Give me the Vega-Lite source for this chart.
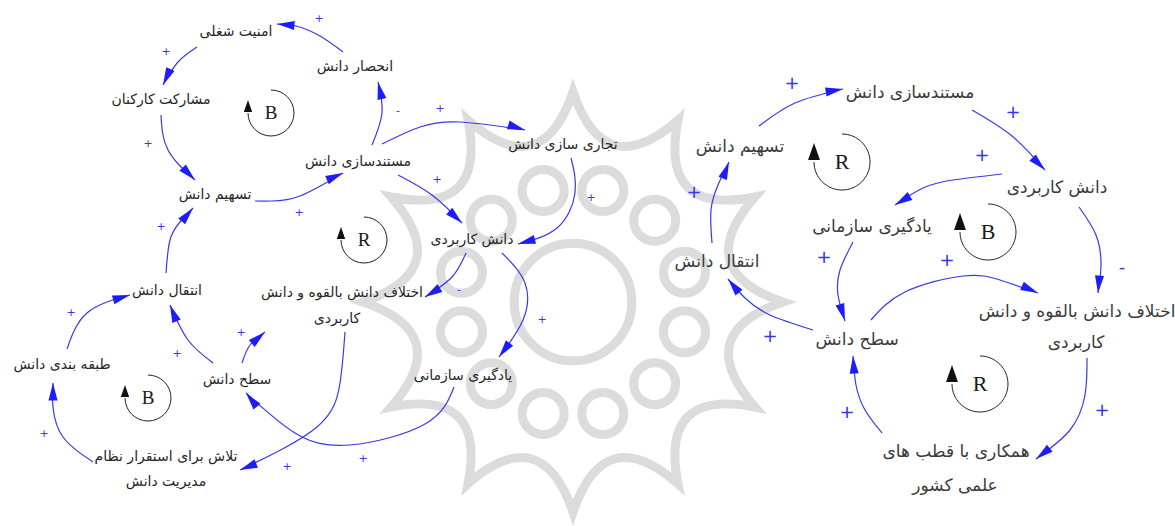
{
  "$schema": "https://vega.github.io/schema/vega-lite/v6.json",
  "width": 1175,
  "height": 526,
  "autosize": "none",
  "padding": 0,
  "background": "white",
  "config": {"view": {"stroke": null}},
  "resolve": {"scale": {"size": "independent"}},
  "datasets": {
    "wm": [{"x": 573, "y": 302}],
    "edges": [
      {"e": "L1", "i": 0, "x": 343, "y": 52}, {"e": "L1", "i": 1, "x": 320, "y": 36}, {"e": "L1", "i": 2, "x": 296, "y": 26}, {"e": "L1", "i": 3, "x": 277, "y": 24},
      {"e": "L2", "i": 0, "x": 197, "y": 47}, {"e": "L2", "i": 1, "x": 178, "y": 62}, {"e": "L2", "i": 2, "x": 163, "y": 85},
      {"e": "L3", "i": 0, "x": 161, "y": 115}, {"e": "L3", "i": 1, "x": 168, "y": 150}, {"e": "L3", "i": 2, "x": 195, "y": 180},
      {"e": "L4", "i": 0, "x": 255, "y": 201}, {"e": "L4", "i": 1, "x": 272, "y": 201}, {"e": "L4", "i": 2, "x": 300, "y": 196}, {"e": "L4", "i": 3, "x": 343, "y": 173},
      {"e": "L5", "i": 0, "x": 372, "y": 145}, {"e": "L5", "i": 1, "x": 382, "y": 113}, {"e": "L5", "i": 2, "x": 378, "y": 82},
      {"e": "L6", "i": 0, "x": 382, "y": 144}, {"e": "L6", "i": 1, "x": 420, "y": 127}, {"e": "L6", "i": 2, "x": 460, "y": 122}, {"e": "L6", "i": 3, "x": 525, "y": 130},
      {"e": "L7", "i": 0, "x": 398, "y": 175}, {"e": "L7", "i": 1, "x": 432, "y": 195}, {"e": "L7", "i": 2, "x": 462, "y": 223},
      {"e": "L8", "i": 0, "x": 571, "y": 158}, {"e": "L8", "i": 1, "x": 575, "y": 193}, {"e": "L8", "i": 2, "x": 557, "y": 228}, {"e": "L8", "i": 3, "x": 518, "y": 244},
      {"e": "L9", "i": 0, "x": 466, "y": 253}, {"e": "L9", "i": 1, "x": 452, "y": 277}, {"e": "L9", "i": 2, "x": 425, "y": 297},
      {"e": "L10", "i": 0, "x": 502, "y": 253}, {"e": "L10", "i": 1, "x": 525, "y": 283}, {"e": "L10", "i": 2, "x": 523, "y": 320}, {"e": "L10", "i": 3, "x": 499, "y": 357},
      {"e": "L11", "i": 0, "x": 454, "y": 387}, {"e": "L11", "i": 1, "x": 425, "y": 424}, {"e": "L11", "i": 2, "x": 350, "y": 445}, {"e": "L11", "i": 3, "x": 295, "y": 433}, {"e": "L11", "i": 4, "x": 246, "y": 393},
      {"e": "L12", "i": 0, "x": 345, "y": 332}, {"e": "L12", "i": 1, "x": 340, "y": 383}, {"e": "L12", "i": 2, "x": 317, "y": 427}, {"e": "L12", "i": 3, "x": 240, "y": 470},
      {"e": "L13", "i": 0, "x": 242, "y": 363}, {"e": "L13", "i": 1, "x": 250, "y": 345}, {"e": "L13", "i": 2, "x": 265, "y": 332},
      {"e": "L14", "i": 0, "x": 213, "y": 363}, {"e": "L14", "i": 1, "x": 188, "y": 340}, {"e": "L14", "i": 2, "x": 170, "y": 305},
      {"e": "L15", "i": 0, "x": 93, "y": 462}, {"e": "L15", "i": 1, "x": 63, "y": 437}, {"e": "L15", "i": 2, "x": 53, "y": 407}, {"e": "L15", "i": 3, "x": 53, "y": 383},
      {"e": "L16", "i": 0, "x": 67, "y": 349}, {"e": "L16", "i": 1, "x": 87, "y": 313}, {"e": "L16", "i": 2, "x": 130, "y": 295},
      {"e": "L17", "i": 0, "x": 166, "y": 273}, {"e": "L17", "i": 1, "x": 170, "y": 240}, {"e": "L17", "i": 2, "x": 180, "y": 222}, {"e": "L17", "i": 3, "x": 193, "y": 208},
      {"e": "R1", "i": 0, "x": 759, "y": 126}, {"e": "R1", "i": 1, "x": 795, "y": 103}, {"e": "R1", "i": 2, "x": 843, "y": 89},
      {"e": "R2", "i": 0, "x": 972, "y": 110}, {"e": "R2", "i": 1, "x": 1012, "y": 136}, {"e": "R2", "i": 2, "x": 1045, "y": 170},
      {"e": "R3", "i": 0, "x": 1002, "y": 174}, {"e": "R3", "i": 1, "x": 953, "y": 180}, {"e": "R3", "i": 2, "x": 923, "y": 188}, {"e": "R3", "i": 3, "x": 895, "y": 205},
      {"e": "R4", "i": 0, "x": 1079, "y": 207}, {"e": "R4", "i": 1, "x": 1096, "y": 235}, {"e": "R4", "i": 2, "x": 1101, "y": 265}, {"e": "R4", "i": 3, "x": 1098, "y": 293},
      {"e": "R5", "i": 0, "x": 853, "y": 242}, {"e": "R5", "i": 1, "x": 840, "y": 270}, {"e": "R5", "i": 2, "x": 838, "y": 295}, {"e": "R5", "i": 3, "x": 845, "y": 321},
      {"e": "R6", "i": 0, "x": 871, "y": 320}, {"e": "R6", "i": 1, "x": 905, "y": 292}, {"e": "R6", "i": 2, "x": 963, "y": 276}, {"e": "R6", "i": 3, "x": 1000, "y": 280}, {"e": "R6", "i": 4, "x": 1038, "y": 293},
      {"e": "R7", "i": 0, "x": 813, "y": 330}, {"e": "R7", "i": 1, "x": 770, "y": 315}, {"e": "R7", "i": 2, "x": 745, "y": 298}, {"e": "R7", "i": 3, "x": 728, "y": 279},
      {"e": "R8", "i": 0, "x": 712, "y": 243}, {"e": "R8", "i": 1, "x": 711, "y": 210}, {"e": "R8", "i": 2, "x": 718, "y": 185}, {"e": "R8", "i": 3, "x": 729, "y": 162},
      {"e": "R9", "i": 0, "x": 1087, "y": 358}, {"e": "R9", "i": 1, "x": 1085, "y": 395}, {"e": "R9", "i": 2, "x": 1070, "y": 430}, {"e": "R9", "i": 3, "x": 1036, "y": 459},
      {"e": "R10", "i": 0, "x": 882, "y": 433}, {"e": "R10", "i": 1, "x": 865, "y": 410}, {"e": "R10", "i": 2, "x": 856, "y": 385}, {"e": "R10", "i": 3, "x": 853, "y": 356}
    ],
    "heads": [
      {"e": "L1", "x": 277, "y": 24, "a": 275}, {"e": "L2", "x": 163, "y": 85, "a": 205}, {"e": "L3", "x": 195, "y": 180, "a": 135},
      {"e": "L4", "x": 343, "y": 173, "a": 66}, {"e": "L5", "x": 378, "y": 82, "a": 347}, {"e": "L6", "x": 525, "y": 130, "a": 107},
      {"e": "L7", "x": 462, "y": 223, "a": 133}, {"e": "L8", "x": 518, "y": 244, "a": 255}, {"e": "L9", "x": 425, "y": 297, "a": 239},
      {"e": "L10", "x": 499, "y": 357, "a": 217}, {"e": "L11", "x": 246, "y": 393, "a": 321}, {"e": "L12", "x": 240, "y": 470, "a": 248},
      {"e": "L13", "x": 265, "y": 332, "a": 49}, {"e": "L14", "x": 170, "y": 305, "a": 338}, {"e": "L15", "x": 53, "y": 383, "a": 0},
      {"e": "L16", "x": 130, "y": 295, "a": 74}, {"e": "L17", "x": 193, "y": 208, "a": 40},
      {"e": "R1", "x": 843, "y": 89, "a": 80}, {"e": "R2", "x": 1045, "y": 170, "a": 135}, {"e": "R3", "x": 895, "y": 205, "a": 239},
      {"e": "R4", "x": 1098, "y": 293, "a": 185}, {"e": "R5", "x": 845, "y": 321, "a": 163}, {"e": "R6", "x": 1038, "y": 293, "a": 114},
      {"e": "R7", "x": 728, "y": 279, "a": 321}, {"e": "R8", "x": 729, "y": 162, "a": 21}, {"e": "R9", "x": 1036, "y": 459, "a": 232},
      {"e": "R10", "x": 853, "y": 356, "a": 356}
    ],
    "loops": [
      {"t": "B", "d": "L", "x": 271, "y": 113}, {"t": "R", "d": "L", "x": 364, "y": 240}, {"t": "B", "d": "L", "x": 148, "y": 398},
      {"t": "R", "d": "R", "x": 842, "y": 162}, {"t": "B", "d": "R", "x": 988, "y": 232}, {"t": "R", "d": "R", "x": 980, "y": 384}
    ],
    "loopHeads": [
      {"d": "L", "x": 248, "y": 100}, {"d": "L", "x": 341, "y": 227}, {"d": "L", "x": 125, "y": 385},
      {"d": "R", "x": 814, "y": 143}, {"d": "R", "x": 960, "y": 213}, {"d": "R", "x": 952, "y": 365}
    ],
    "signs": [
      {"s": "+", "d": "L", "x": 319, "y": 19}, {"s": "+", "d": "L", "x": 166, "y": 52}, {"s": "+", "d": "L", "x": 148, "y": 144},
      {"s": "+", "d": "L", "x": 299, "y": 213}, {"s": "-", "d": "L", "x": 398, "y": 111}, {"s": "+", "d": "L", "x": 440, "y": 109},
      {"s": "+", "d": "L", "x": 437, "y": 180}, {"s": "+", "d": "L", "x": 591, "y": 198}, {"s": "-", "d": "L", "x": 459, "y": 290},
      {"s": "+", "d": "L", "x": 542, "y": 320}, {"s": "+", "d": "L", "x": 363, "y": 459}, {"s": "+", "d": "L", "x": 287, "y": 467},
      {"s": "+", "d": "L", "x": 241, "y": 333}, {"s": "+", "d": "L", "x": 177, "y": 354}, {"s": "+", "d": "L", "x": 44, "y": 434},
      {"s": "+", "d": "L", "x": 71, "y": 313}, {"s": "+", "d": "L", "x": 161, "y": 227},
      {"s": "+", "d": "R", "x": 792, "y": 84}, {"s": "+", "d": "R", "x": 1013, "y": 113}, {"s": "+", "d": "R", "x": 982, "y": 156},
      {"s": "-", "d": "R", "x": 1122, "y": 268}, {"s": "+", "d": "R", "x": 824, "y": 258}, {"s": "+", "d": "R", "x": 947, "y": 261},
      {"s": "+", "d": "R", "x": 770, "y": 337}, {"s": "+", "d": "R", "x": 694, "y": 193}, {"s": "+", "d": "R", "x": 1102, "y": 411},
      {"s": "+", "d": "R", "x": 847, "y": 413}
    ],
    "labels": [
      {"t": "امنیت شغلی", "d": "L", "x": 236, "y": 32},
      {"t": "انحصار دانش", "d": "L", "x": 355, "y": 67},
      {"t": "مشارکت کارکنان", "d": "L", "x": 161, "y": 100},
      {"t": "مستندسازی دانش", "d": "L", "x": 358, "y": 162},
      {"t": "تسهیم دانش", "d": "L", "x": 215, "y": 195},
      {"t": "تجاری سازی دانش", "d": "L", "x": 563, "y": 145},
      {"t": "دانش کاربردی", "d": "L", "x": 472, "y": 240},
      {"t": "انتقال دانش", "d": "L", "x": 167, "y": 291},
      {"t": "اختلاف دانش بالقوه و دانش", "d": "L", "x": 342, "y": 293},
      {"t": "کاربردی", "d": "L", "x": 337, "y": 319},
      {"t": "طبقه بندی دانش", "d": "L", "x": 62, "y": 365},
      {"t": "سطح دانش", "d": "L", "x": 237, "y": 380},
      {"t": "یادگیری سازمانی", "d": "L", "x": 463, "y": 376},
      {"t": "تلاش برای استقرار نظام", "d": "L", "x": 166, "y": 457},
      {"t": "مدیریت دانش", "d": "L", "x": 166, "y": 482},
      {"t": "مستندسازی دانش", "d": "R", "x": 910, "y": 93},
      {"t": "تسهیم دانش", "d": "R", "x": 740, "y": 147},
      {"t": "دانش کاربردی", "d": "R", "x": 1057, "y": 188},
      {"t": "یادگیری سازمانی", "d": "R", "x": 872, "y": 227},
      {"t": "انتقال دانش", "d": "R", "x": 717, "y": 262},
      {"t": "سطح دانش", "d": "R", "x": 857, "y": 340},
      {"t": "اختلاف دانش بالقوه و دانش", "d": "R", "x": 1077, "y": 312},
      {"t": "کاربردی", "d": "R", "x": 1076, "y": 343},
      {"t": "همکاری با قطب های", "d": "R", "x": 956, "y": 452},
      {"t": "علمی کشور", "d": "R", "x": 955, "y": 486}
    ]
  },
  "encoding": {
    "x": {"field": "x", "type": "quantitative", "scale": {"domain": [0, 1175], "nice": false, "zero": false}, "axis": null},
    "y": {"field": "y", "type": "quantitative", "scale": {"domain": [0, 526], "nice": false, "zero": false, "reverse": true}, "axis": null}
  },
  "layer": [
    {
      "data": {"name": "wm"},
      "mark": {
        "type": "point",
        "shape": "M0,-1 Q0.15,-0.56 0.5,-0.866 Q0.41,-0.41 0.866,-0.5 Q0.56,-0.15 1,0 Q0.56,0.15 0.866,0.5 Q0.41,0.41 0.5,0.866 Q0.15,0.56 0,1 Q-0.15,0.56 -0.5,0.866 Q-0.41,0.41 -0.866,0.5 Q-0.56,0.15 -1,0 Q-0.56,-0.15 -0.866,-0.5 Q-0.41,-0.41 -0.5,-0.866 Q-0.15,-0.56 0,-1 Z M0.242,-0.531 a0.1,0.1 0 1,1 -0.2,0 a0.1,0.1 0 1,1 0.2,0 M0.489,-0.389 a0.1,0.1 0 1,1 -0.2,0 a0.1,0.1 0 1,1 0.2,0 M0.631,-0.142 a0.1,0.1 0 1,1 -0.2,0 a0.1,0.1 0 1,1 0.2,0 M0.631,0.142 a0.1,0.1 0 1,1 -0.2,0 a0.1,0.1 0 1,1 0.2,0 M0.489,0.389 a0.1,0.1 0 1,1 -0.2,0 a0.1,0.1 0 1,1 0.2,0 M0.242,0.531 a0.1,0.1 0 1,1 -0.2,0 a0.1,0.1 0 1,1 0.2,0 M-0.042,0.531 a0.1,0.1 0 1,1 -0.2,0 a0.1,0.1 0 1,1 0.2,0 M-0.289,0.389 a0.1,0.1 0 1,1 -0.2,0 a0.1,0.1 0 1,1 0.2,0 M-0.431,0.142 a0.1,0.1 0 1,1 -0.2,0 a0.1,0.1 0 1,1 0.2,0 M-0.431,-0.142 a0.1,0.1 0 1,1 -0.2,0 a0.1,0.1 0 1,1 0.2,0 M-0.289,-0.389 a0.1,0.1 0 1,1 -0.2,0 a0.1,0.1 0 1,1 0.2,0 M-0.042,-0.531 a0.1,0.1 0 1,1 -0.2,0 a0.1,0.1 0 1,1 0.2,0 M0.28,0 a0.28,0.28 0 1,1 -0.56,0 a0.28,0.28 0 1,1 0.56,0",
        "size": 176400,
        "filled": false,
        "stroke": "#dcdcdc",
        "strokeWidth": 9,
        "opacity": 1
      }
    },
    {
      "data": {"name": "edges"},
      "mark": {"type": "line", "interpolate": "natural", "stroke": "#3838ee", "strokeWidth": 1.2},
      "encoding": {
        "detail": {"field": "e", "type": "nominal"},
        "order": {"field": "i", "type": "quantitative"}
      }
    },
    {
      "data": {"name": "heads"},
      "mark": {"type": "point", "shape": "M0,0 L0.26,1 L-0.26,1 Z", "size": 1225, "filled": true, "fill": "#1c1cff", "strokeWidth": 0, "opacity": 1},
      "encoding": {
        "angle": {"field": "a", "type": "quantitative", "scale": null}
      }
    },
    {
      "data": {"name": "loops"},
      "mark": {"type": "point", "shape": "M0,-1 A1,1 0 1,1 -1,0", "filled": false, "stroke": "#222222", "strokeWidth": 1, "opacity": 1},
      "encoding": {
        "size": {"field": "d", "type": "ordinal", "scale": {"domain": ["L", "R"], "range": [2116, 3136]}, "legend": null}
      }
    },
    {
      "data": {"name": "loopHeads"},
      "mark": {"type": "point", "shape": "M0,0 L0.35,1 L-0.35,1 Z", "filled": true, "fill": "#111111", "strokeWidth": 0, "opacity": 1},
      "encoding": {
        "size": {"field": "d", "type": "ordinal", "scale": {"domain": ["L", "R"], "range": [576, 1156]}, "legend": null}
      }
    },
    {
      "data": {"name": "loops"},
      "mark": {"type": "text", "font": "Liberation Serif", "align": "center", "baseline": "middle", "fill": "#1a1a1a"},
      "encoding": {
        "text": {"field": "t"},
        "size": {"field": "d", "type": "ordinal", "scale": {"domain": ["L", "R"], "range": [19, 22]}, "legend": null}
      }
    },
    {
      "data": {"name": "signs"},
      "mark": {"type": "text", "font": "DejaVu Sans", "align": "center", "baseline": "middle", "fill": "#3535ee"},
      "encoding": {
        "text": {"field": "s"},
        "size": {"field": "d", "type": "ordinal", "scale": {"domain": ["L", "R"], "range": [11, 18]}, "legend": null}
      }
    },
    {
      "data": {"name": "labels"},
      "mark": {"type": "text", "font": "DejaVu Sans", "align": "center", "baseline": "middle"},
      "encoding": {
        "text": {"field": "t"},
        "size": {"field": "d", "type": "ordinal", "scale": {"domain": ["L", "R"], "range": [14, 17]}, "legend": null},
        "color": {"field": "d", "type": "nominal", "scale": {"domain": ["L", "R"], "range": ["#262626", "#3a3a3a"]}, "legend": null}
      }
    }
  ]
}
